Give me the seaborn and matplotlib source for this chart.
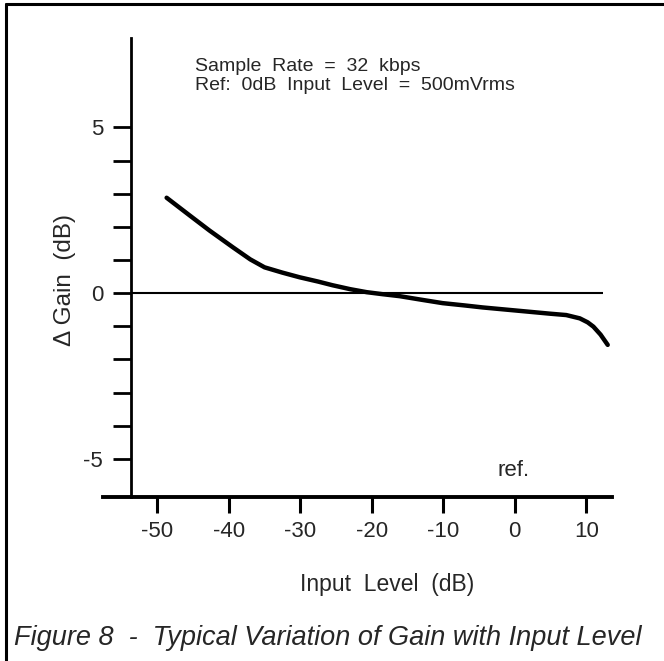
import numpy as np
import pandas as pd
import matplotlib
matplotlib.use("Agg")
import matplotlib.pyplot as plt
from matplotlib.lines import Line2D
import seaborn as sns

# ---- data ----
input_level = [-48.7, -45.5, -42.7, -39.4, -37.0, -35.0, -32.5, -30.1, -27.5, -25.5,
               -23.0, -20.7, -18.5, -16.1, -13.0, -10.1, -7.0, -4.5, -1.0, 2.5,
               5.0, 7.2, 9.1, 10.2, 11.0, 12.0, 13.0]
delta_gain = [2.88, 2.35, 1.89, 1.38, 1.02, 0.78, 0.62, 0.48, 0.35, 0.24,
              0.12, 0.03, -0.03, -0.09, -0.20, -0.30, -0.37, -0.43, -0.50, -0.57,
              -0.62, -0.66, -0.76, -0.88, -1.01, -1.25, -1.56]
x_ticks = [-50, -40, -30, -20, -10, 0, 10]
x_tick_labels = ["-50", "-40", "-30", "-20", "-10", "0", "10"]
y_ticks = [-5, -4, -3, -2, -1, 0, 1, 2, 3, 4, 5]
y_tick_labels = ["-5", "", "", "", "", "0", "", "", "", "", "5"]
ref_line_y = 0
ref_line_span = [-53.7, 12.3]
annotation_lines = ["Sample  Rate  =  32  kbps", "Ref:  0dB  Input  Level  =  500mVrms"]
caption = "Figure 8  -  Typical Variation of Gain with Input Level"

df = pd.DataFrame({"Input Level": input_level, "Gain": delta_gain})

sns.set_theme(style="white")
plt.rcParams["font.family"] = ["Liberation Sans", "DejaVu Sans"]

fig = plt.figure(figsize=(6.64, 6.61), dpi=100)
ax = fig.add_axes([103 / 664, 1 - 497 / 661, 509 / 664, 459 / 661])

ax.hlines(ref_line_y, ref_line_span[0], ref_line_span[1], color="black", lw=1.5)
sns.lineplot(data=df, x="Input Level", y="Gain", ax=ax, color="black", lw=3.2,
             sort=False, solid_capstyle="round")

ax.set_xlim(-57.6, 13.6)
ax.set_ylim(-6.15, 7.7)

ax.spines["top"].set_visible(False)
ax.spines["right"].set_visible(False)
ax.spines["left"].set_position(("data", -53.7))
ax.spines["left"].set_linewidth(2.0)
ax.spines["bottom"].set_linewidth(2.8)
ax.spines["left"].set_color("black")
ax.spines["bottom"].set_color("black")

ax.set_xticks(x_ticks)
ax.set_xticklabels(x_tick_labels)
ax.set_yticks(y_ticks)
ax.set_yticklabels(y_tick_labels)
ax.tick_params(axis="x", direction="out", length=11.5, width=2.2, pad=6,
               labelsize=16, color="black", bottom=True)
ax.tick_params(axis="y", direction="out", length=13, width=2.0, pad=7,
               labelsize=16, color="black", left=True)

ax.set_xlabel("Input  Level  (dB)", fontsize=16.5)
ax.xaxis.set_label_coords((387 - 103) / 509, (497 - 573) / 459)
ax.set_ylabel("Δ Gain  (dB)", fontsize=17.5)
ax.yaxis.set_label_coords((76 - 103) / 509, (497 - 280.5) / 459)

ax.text(-44.75, 6.84, annotation_lines[0], fontsize=14, va="center", ha="left")
ax.text(-44.75, 6.28, annotation_lines[1], fontsize=14, va="center", ha="left")
ax.text(-2.4, -5.35, "ref.", fontsize=16, va="center", ha="left")

fig.text(14 / 664, 1 - 645 / 661, caption, fontsize=19.5, style="italic",
         va="baseline", ha="left")

# figure frame (top and left borders)
fig.add_artist(Line2D([6 / 664, 1.0], [1 - 4 / 661, 1 - 4 / 661],
                      transform=fig.transFigure, color="black", lw=2.2))
fig.add_artist(Line2D([6 / 664, 6 / 664], [0.0, 1 - 4 / 661],
                      transform=fig.transFigure, color="black", lw=2.2))

fig.savefig("out.png", dpi=100, facecolor="white")
